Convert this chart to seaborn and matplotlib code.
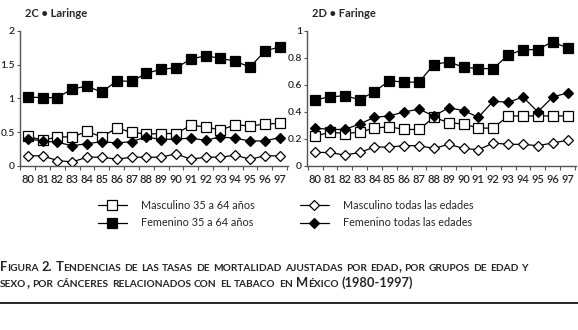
import numpy as np
import pandas as pd
import seaborn as sns
import matplotlib.pyplot as plt
from matplotlib.lines import Line2D
from matplotlib.transforms import IdentityTransform

years = ['80', '81', '82', '83', '84', '85', '86', '87', '88',
         '89', '90', '91', '92', '93', '94', '95', '96', '97']

# 2C Laringe
lar_masc_35 = [0.44, 0.38, 0.43, 0.43, 0.51, 0.43, 0.56, 0.50, 0.47,
               0.48, 0.48, 0.60, 0.58, 0.53, 0.61, 0.59, 0.62, 0.63]
lar_fem_35 = [1.02, 1.01, 1.01, 1.14, 1.18, 1.09, 1.26, 1.25, 1.37,
              1.43, 1.45, 1.58, 1.63, 1.59, 1.55, 1.46, 1.70, 1.76]
lar_masc_all = [0.15, 0.15, 0.08, 0.06, 0.13, 0.13, 0.10, 0.13, 0.13,
                0.13, 0.18, 0.10, 0.13, 0.13, 0.16, 0.10, 0.15, 0.15]
lar_fem_all = [0.40, 0.37, 0.35, 0.30, 0.33, 0.36, 0.34, 0.36, 0.43,
               0.39, 0.40, 0.41, 0.38, 0.43, 0.41, 0.37, 0.37, 0.42]

# 2D Faringe
far_masc_35 = [0.22, 0.25, 0.24, 0.25, 0.28, 0.29, 0.27, 0.27, 0.36,
               0.32, 0.31, 0.28, 0.28, 0.37, 0.37, 0.37, 0.37, 0.37]
far_fem_35 = [0.49, 0.51, 0.52, 0.49, 0.55, 0.63, 0.62, 0.62, 0.75,
              0.77, 0.73, 0.72, 0.72, 0.82, 0.86, 0.86, 0.92, 0.87]
far_masc_all = [0.10, 0.10, 0.08, 0.10, 0.14, 0.14, 0.15, 0.15, 0.13,
                0.16, 0.13, 0.12, 0.17, 0.16, 0.16, 0.15, 0.17, 0.19]
far_fem_all = [0.28, 0.27, 0.27, 0.31, 0.36, 0.37, 0.40, 0.42, 0.37,
               0.43, 0.41, 0.36, 0.48, 0.47, 0.51, 0.40, 0.51, 0.54]

labels = ['Masculino 35 a 64 años', 'Femenino 35 a 64 años',
          'Masculino todas las edades', 'Femenino todas las edades']

sns.set_style('white')
plt.rcParams['font.family'] = ['Lato', 'DejaVu Sans']

fig = plt.figure(figsize=(5.78, 3.3), dpi=100)
ax1 = fig.add_axes([0.034, 0.497, 0.464, 0.41])
ax2 = fig.add_axes([0.531, 0.497, 0.465, 0.41])

styles = {
    'Masculino todas las edades': dict(marker='D', mfc='white', ms=5),
    'Masculino 35 a 64 años': dict(marker='s', mfc='white', ms=7),
    'Femenino todas las edades': dict(marker='D', mfc='black', ms=5),
    'Femenino 35 a 64 años': dict(marker='s', mfc='black', ms=7),
}


def draw_panel(ax, series, ymax, yticks, yticklabels, title):
    x = np.arange(len(years))
    for name in ['Masculino todas las edades', 'Masculino 35 a 64 años',
                 'Femenino todas las edades', 'Femenino 35 a 64 años']:
        st = styles[name]
        sns.lineplot(x=x, y=series[name], ax=ax, color='black', linewidth=0.9,
                     marker=st['marker'], markersize=st['ms'],
                     markerfacecolor=st['mfc'], markeredgecolor='black',
                     markeredgewidth=0.9)
    ax.set_xlim(-0.55, len(years) - 0.45)
    ax.set_ylim(0, ymax)
    ax.set_xticks(x)
    ax.set_xticklabels(years)
    ax.set_xticks(np.arange(-0.5, len(years), 1.0), minor=True)
    ax.set_yticks(yticks)
    ax.set_yticklabels(yticklabels)
    for s in ['top', 'right']:
        ax.spines[s].set_visible(False)
    for s in ['left', 'bottom']:
        ax.spines[s].set_color('#555555')
        ax.spines[s].set_linewidth(1.0)
    ax.tick_params(axis='y', which='major', left=True, length=2.5, width=0.8,
                   color='#555555', pad=1, labelsize=7.5)
    ax.tick_params(axis='x', which='major', bottom=False, pad=2, labelsize=8)
    ax.tick_params(axis='x', which='minor', bottom=True, length=3, width=0.8,
                   color='#555555')
    for lab in ax.get_xticklabels() + ax.get_yticklabels():
        lab.set_fontweight('semibold')
    ax.set_xlabel('')
    ax.set_ylabel('')
    ax.text(0.02, 1.13, title, transform=ax.transAxes, fontsize=8,
            fontweight='bold', va='center', ha='left')


draw_panel(ax1, {'Masculino 35 a 64 años': lar_masc_35,
                 'Femenino 35 a 64 años': lar_fem_35,
                 'Masculino todas las edades': lar_masc_all,
                 'Femenino todas las edades': lar_fem_all},
           2, [0, 0.5, 1, 1.5, 2], ['0', '0.5', '1', '1.5', '2'],
           '2C • Laringe')
draw_panel(ax2, {'Masculino 35 a 64 años': far_masc_35,
                 'Femenino 35 a 64 años': far_fem_35,
                 'Masculino todas las edades': far_masc_all,
                 'Femenino todas las edades': far_fem_all},
           1, [0, 0.2, 0.4, 0.6, 0.8, 1], ['0', '0.2', '0.4', '0.6', '0.8', '1'],
           '2D • Faringe')

handles = []
for name in labels:
    st = styles[name]
    handles.append(Line2D([], [], color='black', linewidth=0.9,
                          marker=st['marker'], markersize=st['ms'],
                          markerfacecolor=st['mfc'], markeredgecolor='black',
                          markeredgewidth=0.9))
for k, xl in enumerate([98, 300]):
    leg = fig.legend(handles[2 * k:2 * k + 2], labels[2 * k:2 * k + 2],
                     loc='center left', bbox_to_anchor=(xl / 578, 1 - 214 / 330),
                     frameon=False, fontsize=7.8, handlelength=2.65,
                     handletextpad=1.35, labelspacing=0.62,
                     borderpad=0, borderaxespad=0)

# caption in small caps
caption = ['Figura 2. Tendencias de las tasas de mortalidad ajustadas por edad, por grupos de edad y',
           'sexo, por cánceres relacionados con el tabaco en México (1980-1997)']
renderer = fig.canvas.get_renderer()
big, small = 9.3, 7.25
space = 3.2
for i, line in enumerate(caption):
    xpos = 0.0
    ypix = 330 - (271 + i * 16)
    for word in line.split(' '):
        runs = []
        for ch in word:
            is_small = ch.islower()
            if runs and runs[-1][1] == is_small:
                runs[-1][0] += ch.upper()
            else:
                runs.append([ch.upper(), is_small])
        for txt, is_small in runs:
            t = fig.text(xpos, ypix, txt, transform=IdentityTransform(),
                         fontsize=small if is_small else big,
                         fontweight='bold', va='baseline', ha='left')
            xpos += t.get_window_extent(renderer).width
        xpos += space

fig.add_artist(Line2D([0, 1], [1 - 303 / 330, 1 - 303 / 330],
                      transform=fig.transFigure, color='black', linewidth=1.2))

fig.savefig('out.png', dpi=100)
